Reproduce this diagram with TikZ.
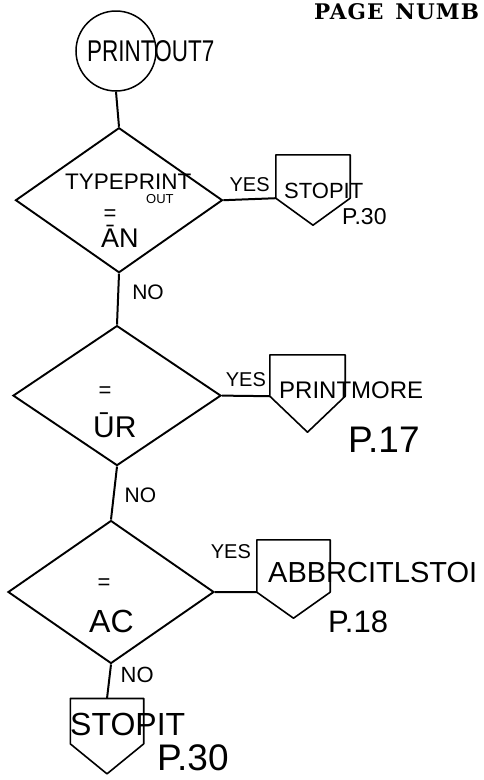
\documentclass[tikz,border=0pt]{standalone}
\usepackage{fontspec}
\setmainfont{Liberation Sans}
\newfontfamily\tallfont[FakeStretch=0.75]{Liberation Sans}
\newfontfamily\headfont[LetterSpace=5]{DejaVu Serif}
\usepackage{tikz}
\usetikzlibrary{positioning, shapes.geometric, calc}

\begin{document}
\begin{tikzpicture}[
    x=1pt, y=1pt,
    decision/.style={diamond, draw=black, line width=1.9pt, inner sep=0pt},
    offpage/.style={rectangle, inner sep=0pt, minimum width=74pt},
    hand/.style={inner sep=0pt, anchor=base west},
    conn/.style={draw=black, line width=2pt}
]
    \useasboundingbox (0,0) rectangle (484,-780);

    % Page header
    \node[hand, font=\headfont\bfseries\fontsize{21.5}{23}\selectfont] (pagehd) at (314,-19) {PAGE\hspace{12pt}NUMB};

    % Entry point
    \node[circle, draw=black, line width=1.5pt, minimum size=80pt, inner sep=0pt] (start) at (116,-51) {};
    \node[hand, font=\tallfont\fontsize{30}{32}\selectfont] (starttxt) at (87,-61) {PRINTOUT7};

    % Decisions (stacked)
    \node[decision, minimum width=207pt, minimum height=145pt, below=35pt of start, xshift=3pt] (typechk) {};
    \node[decision, minimum width=208pt, minimum height=140pt, below=51pt of typechk, xshift=-2pt] (urchk) {};
    \node[decision, minimum width=206pt, minimum height=143pt, below=53pt of urchk, xshift=-6pt] (acchk) {};

    \node[hand, font=\fontsize{22.5}{24}\selectfont] (typetxt) at (65,-189) {TYPEPRINT};
    \node[hand, font=\fontsize{13}{15}\selectfont] (outtxt) at (146,-203) {OUT};
    \node[inner sep=0pt, font=\fontsize{22}{24}\selectfont] (aneq) at (110,-215) {=};
    \node[hand, font=\fontsize{27}{29}\selectfont] (antxt) at (101,-247) {\=AN};

    \node[inner sep=0pt, font=\fontsize{22}{24}\selectfont] (ureq) at (105,-392) {=};
    \node[hand, font=\fontsize{30}{32}\selectfont] (urtxt) at (93,-437) {\=UR};

    \node[inner sep=0pt, font=\fontsize{22}{24}\selectfont] (aceq) at (104,-584) {=};
    \node[hand, font=\fontsize{32}{34}\selectfont] (actxt) at (89,-632) {AC};

    % Off-page connectors
    \node[offpage, minimum height=43pt] (stopa) at (313,-176.5) {};
    \node[offpage, minimum width=75pt, minimum height=41pt] (more) at (307.5,-375.5) {};
    \node[offpage, minimum width=73pt, minimum height=52pt] (abbr) at (293.5,-566) {};
    \node[offpage, minimum width=73pt, minimum height=45pt, below=34pt of acchk, xshift=-4pt] (stopb) {};

    \foreach \n/\d in {stopa/27, more/36, abbr/26, stopb/30}
        \draw[line width=1.6pt, line join=round] (\n.south west) -- (\n.north west) -- (\n.north east) -- (\n.south east) -- ($(\n.south)+(0,-\d)$) -- cycle;

    \node[hand, font=\fontsize{22}{24}\selectfont] (stopatxt) at (284,-198) {STOPIT};
    \node[hand, font=\fontsize{23}{25}\selectfont] (pga) at (342,-224) {P.30};
    \node[hand, font=\fontsize{24}{26}\selectfont] (moretxt) at (279,-398) {PRINTMORE};
    \node[hand, font=\fontsize{37}{39}\selectfont] (pgb) at (348,-452) {P.17};
    \node[hand, font=\fontsize{29}{31}\selectfont] (abbrtxt) at (268,-582) {ABBRCITLSTOI};
    \node[hand, font=\fontsize{31}{33}\selectfont] (pgc) at (328,-632) {P.18};
    \node[hand, font=\fontsize{32}{34}\selectfont] (stopbtxt) at (70,-735) {STOPIT};
    \node[hand, font=\fontsize{37}{39}\selectfont] (pgd) at (157,-770) {P.30};

    % Connections
    \draw[conn] (start.south) -- (typechk.north);
    \draw[conn] (typechk.east) -- node[above=7pt, inner sep=0pt, font=\fontsize{20}{22}\selectfont] {YES} (stopa.south west);
    \draw[conn] (typechk.south) -- node[pos=0.36, right=13pt, inner sep=0pt, font=\fontsize{21}{23}\selectfont] {NO} (urchk.north);
    \draw[conn] (urchk.east) -- node[above=8pt, inner sep=0pt, font=\fontsize{20}{22}\selectfont] {YES} (more.south west);
    \draw[conn] (urchk.south) -- node[pos=0.55, right=10pt, inner sep=0pt, font=\fontsize{21}{23}\selectfont] {NO} (acchk.north);
    \draw[conn] (acchk.east) -- node[above=32pt, xshift=-5pt, inner sep=0pt, font=\fontsize{20}{22}\selectfont] {YES} (abbr.south west);
    \draw[conn] (acchk.south) -- node[pos=0.32, right=10pt, inner sep=0pt, font=\fontsize{22}{24}\selectfont] {NO} (stopb.north);
\end{tikzpicture}
\end{document}
